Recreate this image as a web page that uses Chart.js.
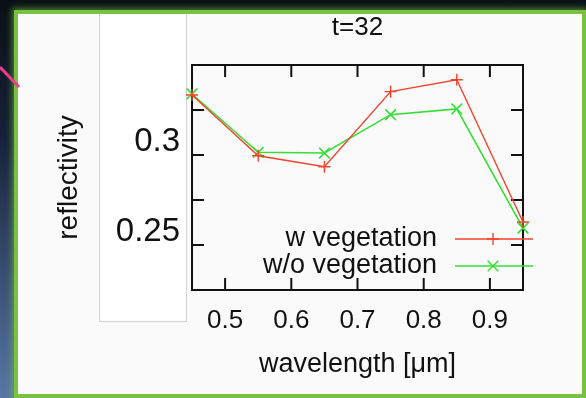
<!DOCTYPE html>
<html>
<head>
<meta charset="utf-8">
<script src="https://cdn.jsdelivr.net/npm/chart.js@4/dist/chart.umd.min.js"></script>
<style>
  html, body { margin: 0; padding: 0; }
  body {
    width: 586px; height: 398px; overflow: hidden; position: relative;
    background: linear-gradient(to bottom, #0b1016 0%, #17223a 35%, #5877a6 100%);
  }
  #panel {
    position: absolute; left: 14px; top: 10px; width: 564px; height: 380px;
    border: 4px solid #7ac143; background: #fafafa;
    box-shadow: 0 0 6px 2px rgba(110, 190, 60, 0.6);
  }
  #labelBox {
    position: absolute; left: 99px; top: 14px; width: 86px; height: 307px;
    background: #fff; border: 1px solid #d2d2d2; border-top: none;
  }
  #pink { position: absolute; left: 0; top: 0; z-index: 2; }
  canvas { position: absolute; left: 0; top: 0; z-index: 3; }
</style>
</head>
<body>
<div id="panel"></div>
<div id="labelBox"></div>
<svg id="pink" width="30" height="100"><line x1="0" y1="67" x2="19" y2="87" stroke="#ee3b8a" stroke-width="3"/></svg>
<canvas id="chart" width="586" height="398"></canvas>
<script>
const wavelengths = [0.45, 0.55, 0.65, 0.75, 0.85, 0.95];
const withVeg = [0.3333, 0.2996, 0.2935, 0.3352, 0.3418, 0.2628];
const withoutVeg = [0.3339, 0.3015, 0.3011, 0.3224, 0.3256, 0.2594];
const seriesNames = ["w vegetation", "w/o vegetation"];
const xTickValues = [0.5, 0.6, 0.7, 0.8, 0.9];
const yTickValues = [0.25, 0.275, 0.3, 0.325];
const yLabelValues = [0.25, 0.3];

const RED = "#f2432f";
const GREEN = "#33e033";
const FONT = '"Liberation Sans", Arial, Helvetica, sans-serif';

Chart.defaults.font.family = FONT;
Chart.defaults.color = "#111";

const toPoints = (ys) => wavelengths.map((x, i) => ({ x, y: ys[i] }));

// frame with inward ticks on all four sides
const framePlugin = {
  id: "frame",
  beforeDatasetsDraw(chart) {
    const { ctx, chartArea: a, scales } = chart;
    ctx.save();
    ctx.strokeStyle = "#111";
    ctx.lineWidth = 2;
    ctx.beginPath();
    xTickValues.forEach((v) => {
      const px = scales.x.getPixelForValue(v);
      ctx.moveTo(px, a.bottom); ctx.lineTo(px, a.bottom - 12);
      ctx.moveTo(px, a.top); ctx.lineTo(px, a.top + 12);
    });
    yTickValues.forEach((v) => {
      const py = scales.y.getPixelForValue(v);
      ctx.moveTo(a.left, py); ctx.lineTo(a.left + 12, py);
      ctx.moveTo(a.right, py); ctx.lineTo(a.right - 12, py);
    });
    ctx.stroke();
    ctx.strokeRect(a.left, a.top, a.right - a.left, a.bottom - a.top);
    ctx.restore();
  }
};

function marker(ctx, style, x, y, r) {
  ctx.beginPath();
  if (style === "cross") {
    ctx.moveTo(x - r, y); ctx.lineTo(x + r, y);
    ctx.moveTo(x, y - r); ctx.lineTo(x, y + r);
  } else {
    const d = r * Math.SQRT1_2;
    ctx.moveTo(x - d, y - d); ctx.lineTo(x + d, y + d);
    ctx.moveTo(x - d, y + d); ctx.lineTo(x + d, y - d);
  }
  ctx.stroke();
}

// gnuplot style key, bottom right inside the plot
const keyPlugin = {
  id: "key",
  afterDatasetsDraw(chart) {
    const { ctx, chartArea: a } = chart;
    const rows = [a.bottom - 51, a.bottom - 24];
    ctx.save();
    ctx.font = "27px " + FONT;
    ctx.textAlign = "right";
    ctx.textBaseline = "middle";
    chart.data.datasets.forEach((ds, i) => {
      const y = rows[i];
      ctx.fillStyle = "#111";
      ctx.fillText(ds.label, a.left + 245, y);
      ctx.strokeStyle = ds.borderColor;
      ctx.lineWidth = 1.4;
      ctx.beginPath();
      ctx.moveTo(a.left + 263, y); ctx.lineTo(a.left + 341, y);
      ctx.stroke();
      marker(ctx, ds.pointStyle, a.left + 301, y, ds.pointRadius);
    });
    ctx.restore();
  }
};

new Chart(document.getElementById("chart"), {
  type: "line",
  data: {
    datasets: [
      {
        label: seriesNames[0], data: toPoints(withVeg),
        borderColor: RED, borderWidth: 1.4, pointStyle: "cross", pointRadius: 6,
        pointBorderWidth: 1.4, pointBorderColor: RED, fill: false, tension: 0, clip: false
      },
      {
        label: seriesNames[1], data: toPoints(withoutVeg),
        borderColor: GREEN, borderWidth: 1.6, pointStyle: "crossRot", pointRadius: 7.5,
        pointBorderWidth: 1.6, pointBorderColor: GREEN, fill: false, tension: 0, clip: false
      }
    ]
  },
  options: {
    responsive: false,
    animation: false,
    devicePixelRatio: 1,
    layout: { padding: { left: 0, right: 63, top: 0, bottom: 0 } },
    plugins: { legend: { display: false }, tooltip: { enabled: false } },
    scales: {
      x: {
        type: "linear", position: "bottom", min: 0.45, max: 0.95,
        afterBuildTicks: (s) => { s.ticks = xTickValues.map((v) => ({ value: v })); },
        afterFit: (s) => { s.height = 108; },
        grid: { display: false, drawTicks: false },
        border: { display: false },
        ticks: { font: { size: 26 }, padding: 15, maxRotation: 0, autoSkip: false,
          callback: (v) => v.toFixed(1) },
        title: { display: true, text: "wavelength [μm]", font: { size: 27 }, padding: { bottom: 17 } }
      },
      top: {
        type: "linear", position: "top", min: 0.45, max: 0.95,
        afterFit: (s) => { s.height = 65; },
        grid: { display: false, drawTicks: false },
        border: { display: false },
        ticks: { display: false },
        title: { display: true, text: "t=32", font: { size: 26 }, padding: { top: 12, bottom: 0 } }
      },
      y: {
        type: "linear", position: "left", min: 0.225, max: 0.35,
        afterBuildTicks: (s) => { s.ticks = yLabelValues.map((v) => ({ value: v })); },
        afterFit: (s) => { s.width = 192; },
        grid: { display: false, drawTicks: false },
        border: { display: false },
        ticks: { font: { size: 33 }, padding: 12, labelOffset: -13,
          callback: (v) => String(v) },
        title: { display: true, text: "reflectivity", font: { size: 28 }, padding: { top: 52 } }
      }
    }
  },
  plugins: [framePlugin, keyPlugin]
});
</script>
</body>
</html>
